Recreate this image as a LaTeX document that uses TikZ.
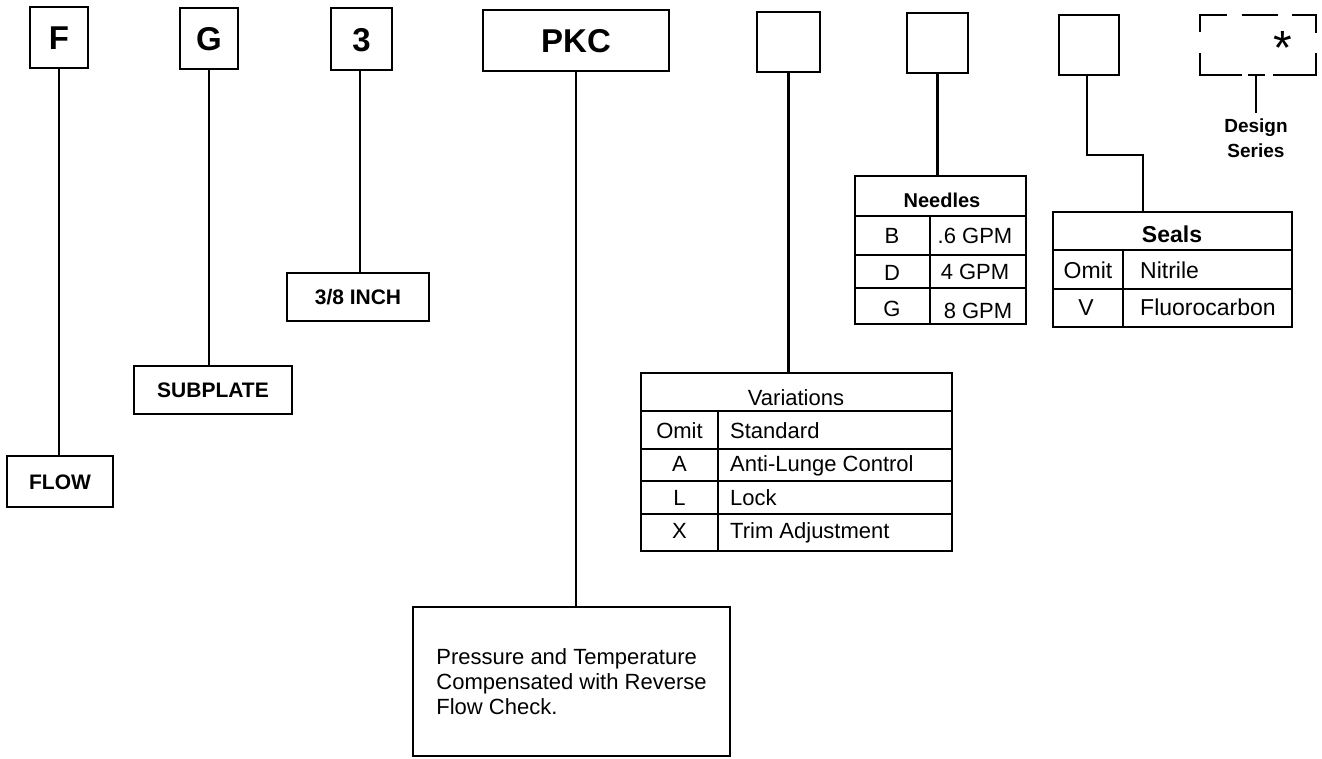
\documentclass[tikz,border=0pt]{standalone}
\usepackage{fontspec}
\setmainfont{Liberation Sans}
\begin{document}
\begin{tikzpicture}[x=1pt,y=-1pt,
  bx/.style={draw, line width=2.4pt, inner sep=0pt},
  bigl/.style={font=\fontsize{33}{38}\selectfont\bfseries, text height=24pt, text depth=0pt},
  lab/.style={font=\fontsize{21}{25}\selectfont\bfseries, text height=15pt, text depth=0pt},
  ln/.style={line width=2.4pt},
  tl/.style={line width=2pt},
  tx/.style={font=\fontsize{22}{26}\selectfont, anchor=base, inner sep=0pt},
  txw/.style={tx, anchor=base west},
  sx/.style={font=\fontsize{23}{27}\selectfont, anchor=base, inner sep=0pt},
  sxw/.style={sx, anchor=base west},
  hd/.style={font=\fontsize{20}{24}\selectfont\bfseries, anchor=base, inner sep=0pt}
]
\useasboundingbox (0,0) rectangle (1322,758);
\fill[white] (0,0) rectangle (1322,758);

% top row of boxes
\node[bx,bigl,minimum width=58pt,minimum height=61pt] (f) at (59,37.5) {F};
\node[bx,bigl,minimum width=58pt,minimum height=61pt] (g) at (209,38.5) {G};
\node[bx,bigl,minimum width=61pt,minimum height=62pt] (three) at (361.5,39) {3};
\node[bx,bigl,minimum width=186pt,minimum height=61pt] (pkc) at (576,40.5) {PKC};
\node[bx,minimum width=63pt,minimum height=60pt] (b5) at (788.5,42) {};
\node[bx,minimum width=61pt,minimum height=60pt] (b6) at (937.5,43) {};
\node[bx,minimum width=60pt,minimum height=60pt] (b7) at (1089,45) {};
\node[inner sep=0pt,minimum width=116pt,minimum height=60pt] (ds) at (1258,45) {};
\node[font=\fontsize{48}{48}\selectfont, anchor=base, inner sep=0pt] (ast) at (1283,64) {*};

% dashed (bracket) box
\draw[ln] (ds.north west) ++(0,17) -- (ds.north west) -- ++(27,0);
\draw[ln] ([xshift=42pt]ds.north west) -- ++(36,0);
\draw[ln] (ds.north east) ++(-24,0) -- (ds.north east) -- ++(0,18);
\draw[ln] (ds.south west) ++(0,-22) -- (ds.south west) -- ++(42,0);
\draw[ln] (ds.south east) ++(0,-22) -- (ds.south east) -- ++(-43,0);
\coordinate (dsT) at ([xshift=-2pt]ds.south);
\draw[ln] (dsT) ++(-8,0) -- ++(17,0);
\node[font=\fontsize{19}{25}\selectfont\bfseries, align=center, anchor=north, inner xsep=0pt, inner ysep=6pt] (design) at (1256,113) {Design\\Series};
\draw[ln] (dsT) -- (dsT |- design.north);

% labels
\node[bx,lab,minimum width=106pt,minimum height=51pt] (flow) at (60,481.5) {FLOW};
\node[bx,lab,minimum width=158pt,minimum height=48pt] (sub) at (213,390) {SUBPLATE};
\node[bx,lab,minimum width=142pt,minimum height=48pt] (inch) at (358,297) {3/8 INCH};

% description box
\node[bx, minimum width=317pt, minimum height=149pt, align=left,
      font=\fontsize{22}{25}\selectfont] (desc) at (571.5,681.5)
      {Pressure and Temperature\\Compensated with Reverse\\Flow Check.};

% Variations table
\node[bx,minimum width=311pt,minimum height=178pt] (varT) at (796.5,462) {};
\draw[tl] (641,411) -- (952,411);
\draw[tl] (641,449) -- (952,449);
\draw[tl] (641,481) -- (952,481);
\draw[tl] (641,514) -- (952,514);
\draw[tl] (718,411) -- (718,551);
\node[tx] (vh) at (796,405) {Variations};
\node[tx] (v1a) at (679.5,438) {Omit};
\node[tx] (v2a) at (679.5,471) {A};
\node[tx] (v3a) at (679.5,505) {L};
\node[tx] (v4a) at (679.5,538) {X};
\node[txw] (v1b) at (730,438) {Standard};
\node[txw] (v2b) at (730,471) {Anti-Lunge Control};
\node[txw] (v3b) at (730,505) {Lock};
\node[txw] (v4b) at (730,538) {Trim Adjustment};

% Needles table
\node[bx,minimum width=171pt,minimum height=148pt] (needT) at (940.5,250) {};
\draw[tl] (855,216) -- (1026,216);
\draw[tl] (855,255) -- (1026,255);
\draw[tl] (855,288) -- (1026,288);
\draw[tl] (930,216) -- (930,324);
\node[hd] (nh) at (942,207) {Needles};
\node[tx] (n1a) at (892,243) {B};
\node[tx] (n2a) at (892,280) {D};
\node[tx] (n3a) at (892,316) {G};
\node[tx] (n1b) at (975,243) {.6 GPM};
\node[tx] (n2b) at (975,279) {4 GPM};
\node[tx] (n3b) at (978,318) {8 GPM};

% Seals table
\node[bx,minimum width=239pt,minimum height=115pt] (sealT) at (1172.5,269.5) {};
\draw[tl] (1053,250) -- (1292,250);
\draw[tl] (1053,289) -- (1292,289);
\draw[tl] (1123,250) -- (1123,327);
\node[sx,font=\fontsize{23}{27}\selectfont\bfseries] (sh) at (1172,242) {Seals};
\node[sx] (s1a) at (1088,278) {Omit};
\node[sx] (s2a) at (1086,315) {V};
\node[sxw] (s1b) at (1140,278) {Nitrile};
\node[sxw] (s2b) at (1140,315) {Fluorocarbon};

% connectors
\draw[ln] (f.south) -- (f.south |- flow.north);
\draw[ln] (g.south) -- (g.south |- sub.north);
\draw[ln] ([xshift=-1.5pt]three.south) -- ([xshift=-1.5pt]three.south |- inch.north);
\draw[ln] (pkc.south) -- (pkc.south |- desc.north);
\draw[ln] (b5.south) -- (b5.south |- varT.north);
\draw[ln] (b6.south) -- (b6.south |- needT.north);
\draw[ln] ([xshift=-2pt]b7.south) -- ++(0,79) -| ([xshift=-29.5pt]sealT.north);
\end{tikzpicture}
\end{document}
